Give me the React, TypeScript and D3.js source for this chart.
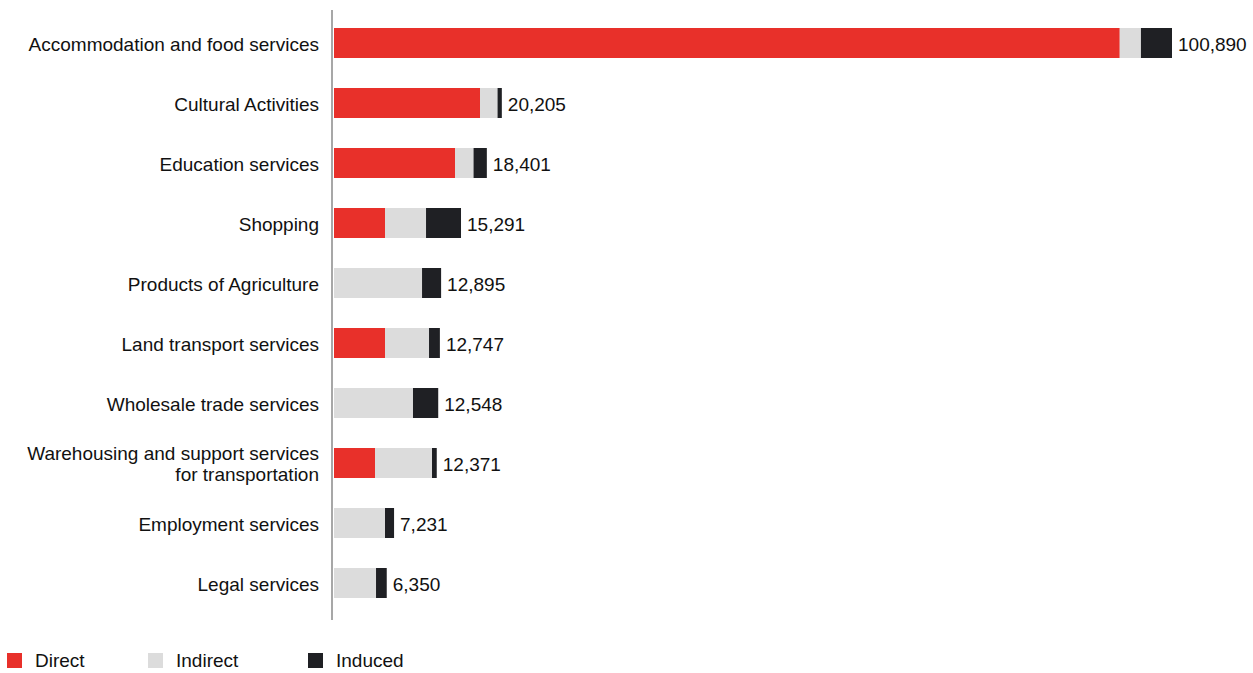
import React from "react";
import * as d3 from "d3";

const categories = [
  "Accommodation and food services",
  "Cultural Activities",
  "Education services",
  "Shopping",
  "Products of Agriculture",
  "Land transport services",
  "Wholesale trade services",
  "Warehousing and support services\nfor transportation",
  "Employment services",
  "Legal services",
];
const direct = [94600, 17580, 14570, 6140, 0, 6140, 0, 4940, 0, 0];
const indirect = [2550, 2110, 2230, 4940, 10600, 5300, 9510, 6860, 6140, 5060];
const induced = [3740, 515, 1601, 4211, 2295, 1307, 3038, 571, 1091, 1290];
const totals = [100890, 20205, 18401, 15291, 12895, 12747, 12548, 12371, 7231, 6350];
const seriesNames = ["Direct", "Indirect", "Induced"];
const colors = ["#e8302a", "#dcdcdc", "#1f2024"];

export default function App() {
  const W = 1253, H = 673;
  const y = d3.scaleBand<string>().domain(categories).range([13, 613]).paddingInner(0.5).paddingOuter(0.25);
  const x = d3.scaleLinear().domain([0, 100890]).range([334, 1172]);
  const series = [direct, indirect, induced];
  const font = "'Liberation Sans', Arial, Helvetica, sans-serif";
  const legendX = [7, 148, 308];
  const fs = 19;
  return (
    <svg width={W} height={H} style={{ position: "absolute", left: 0, top: 0, background: "#fff" }} fontFamily={font}>
      {categories.map((c, i) => {
        const y0 = y(c)!;
        const bw = y.bandwidth();
        let acc = 0;
        const rects = series.map((s, j) => {
          const v = s[i];
          const r = v > 0 ? (
            <rect key={j} x={x(acc)} y={y0} width={x(acc + v) - x(acc)} height={bw} fill={colors[j]} />
          ) : null;
          acc += v;
          return r;
        });
        const lines = c.split("\n");
        const cy = y0 + bw / 2 + 1;
        return (
          <g key={c}>
            {rects}
            <text x={x(totals[i]) + 6} y={cy} dy="0.35em" fontSize={fs} fill="#111">
              {d3.format(",")(totals[i])}
            </text>
            {lines.map((l, k) => (
              <text key={k} x={319} y={cy + (k - (lines.length - 1) / 2) * 21} dy="0.35em" fontSize={fs} textAnchor="end" fill="#111">
                {l}
              </text>
            ))}
          </g>
        );
      })}
      <line x1={332} x2={332} y1={10} y2={620} stroke="#8a8a8a" strokeWidth={1.5} />
      {seriesNames.map((n, j) => (
        <g key={n}>
          <rect x={legendX[j]} y={653} width={15} height={15} fill={colors[j]} />
          <text x={legendX[j] + 28} y={660} dy="0.35em" fontSize={fs} fill="#111">{n}</text>
        </g>
      ))}
    </svg>
  );
}
